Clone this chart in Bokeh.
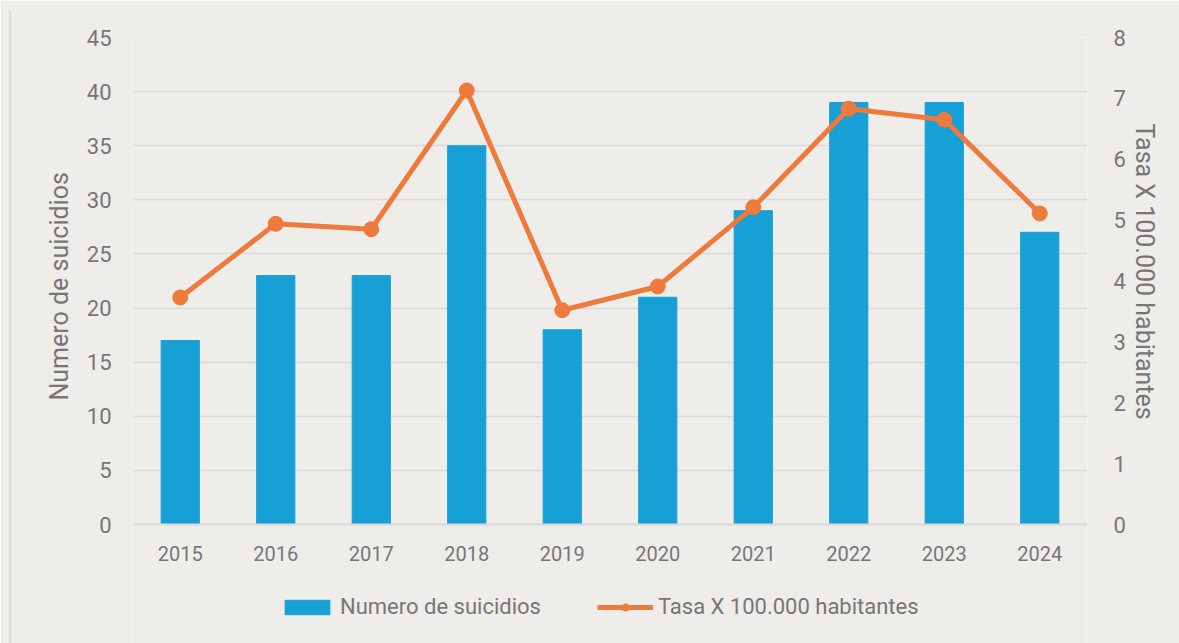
from bokeh.plotting import figure
from bokeh.models import (Range1d, LinearAxis, Legend, LegendItem, FixedTicker, FactorRange,
                          Title)
from bokeh.embed import file_html
from bokeh.resources import INLINE

years = ["2015", "2016", "2017", "2018", "2019", "2020", "2021", "2022", "2023", "2024"]
suicidios = [17, 23, 23, 35, 18, 21, 29, 39, 39, 27]
tasa = [3.73, 4.94, 4.85, 7.13, 3.52, 3.91, 5.21, 6.83, 6.65, 5.11]
left_ticks = [0, 5, 10, 15, 20, 25, 30, 35, 40, 45]
right_ticks = [0, 1, 2, 3, 4, 5, 6, 7, 8]

BG = "#EEEDEA"
TXT = "#767676"
GRID = "#DADADA"
BLUE = "#17A0D6"
ORANGE = "#EE7A3C"
FONT = "Roboto"

# layout (pixels): plotting area 487 px tall, legend strip of 119 px below it inside the frame
PLOT_H = 487
STRIP = 119
LMAX, RMAX = 45, 8

p = figure(x_range=FactorRange(*years, range_padding=0),
           y_range=Range1d(-LMAX * STRIP / PLOT_H, LMAX),
           frame_width=955, frame_height=PLOT_H + STRIP,
           min_border_left=132, min_border_right=92, min_border_top=37, min_border_bottom=0,
           output_backend="svg", toolbar_location=None,
           background_fill_color=BG, border_fill_color=BG, outline_line_color=None)
p.extra_y_ranges = {"tasa": Range1d(-RMAX * STRIP / PLOT_H, RMAX)}

bars = p.vbar(x=years, top=suicidios, width=0.4, color=BLUE)
ln = p.line(x=years, y=tasa, line_color=ORANGE, line_width=5, y_range_name="tasa")
pts = p.scatter(x=years, y=tasa, size=15, color=ORANGE, y_range_name="tasa")

p.yaxis.ticker = FixedTicker(ticks=left_ticks)
p.yaxis.bounds = (0, LMAX)

right = LinearAxis(y_range_name="tasa", ticker=FixedTicker(ticks=right_ticks),
                   bounds=(0, RMAX))
p.add_layout(right, "right")

for ax in [p.yaxis[0], right, p.xaxis[0]]:
    ax.major_label_text_font = FONT
    ax.major_label_text_font_size = "22px"
    ax.major_label_text_color = TXT
    ax.major_tick_line_color = None
    ax.minor_tick_line_color = None

p.xaxis.fixed_location = 0
p.xaxis.major_label_text_font_size = "20px"
p.yaxis[0].axis_line_color = None
right.axis_line_color = None
p.yaxis[0].major_label_standoff = 15
right.major_label_standoff = 20
p.xaxis.axis_line_color = GRID
p.xaxis.axis_line_width = 2
p.xaxis.major_label_standoff = 15

# axis titles placed along the value span of the axes
lt = Title(text="Numero de suicidios", align="left", offset=243, standoff=20,
           text_font=FONT, text_font_size="25px", text_font_style="normal", text_color=TXT)
rt = Title(text="Tasa X 100.000 habitantes", align="left", offset=86, standoff=2,
           text_font=FONT, text_font_size="25px", text_font_style="normal", text_color=TXT)
p.add_layout(lt, "left")
p.add_layout(rt, "right")

p.xgrid.grid_line_color = None
p.ygrid.grid_line_color = GRID
p.ygrid.grid_line_width = 1.5

legend = Legend(items=[LegendItem(label="Numero de suicidios", renderers=[bars]),
                       LegendItem(label="Tasa X 100.000 habitantes", renderers=[ln, pts])],
                orientation="horizontal", location=(147, 24),
                background_fill_alpha=0, border_line_color=None,
                label_text_font=FONT, label_text_font_size="22px", label_text_color=TXT,
                glyph_width=56, glyph_height=18, spacing=56, label_standoff=5,
                margin=0, padding=4)
p.add_layout(legend, "center")

html = file_html(p, INLINE)
html = html.replace(
    "</body>",
    '<div style="position:fixed;left:9px;top:10px;bottom:0;width:2px;z-index:10;'
    'background:#DCDCDC"></div></body>', 1)
html = html.replace("<body>", '<body style="background:%s;overflow:hidden">' % BG, 1)
open("out.html", "w").write(html)
